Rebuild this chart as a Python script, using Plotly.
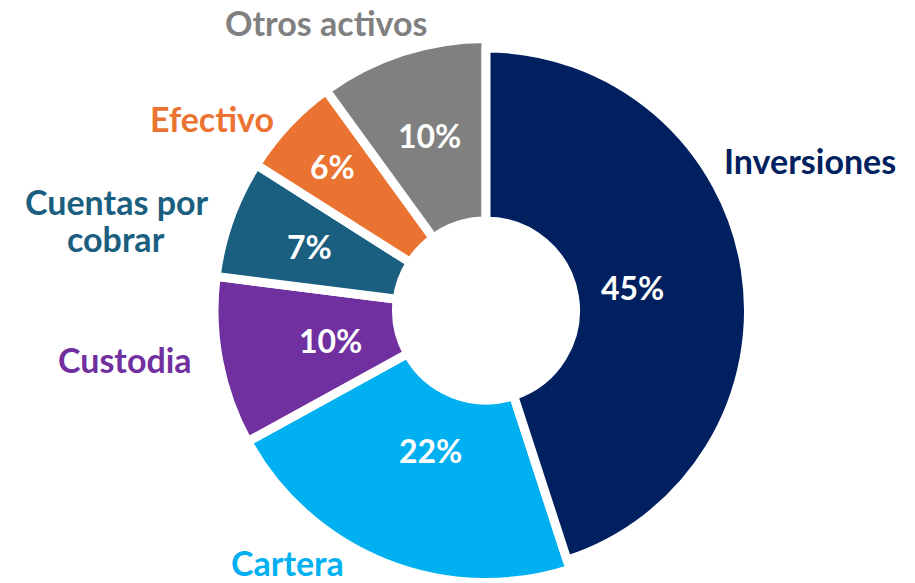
import math
import plotly.graph_objects as go

# ---- data ----
categories = ["Inversiones", "Cartera", "Custodia", "Cuentas por cobrar", "Efectivo", "Otros activos"]
values = [45, 22, 10, 7, 6, 10]
colors = ["#002060", "#00B0F0", "#7030A0", "#1A5E80", "#EB7331", "#808080"]

# ---- style / layout (pixels in a 915x583 figure) ----
W, H = 915, 583
FONT = "Lato"
CX, CY = 486.0, 310.5          # centre of the doughnut
HOLE_R = 94.0                  # visible radius of the hole
GAP = 9.0                      # white separation between slices
slice_radius = {"Inversiones": 258.0}   # visible outer radius per slice
default_radius = 267.5
pct_radius = [148, 151, 158, 188, 210, 184]   # where the % text sits
label_lines = {
    "Inversiones": [("Inversiones", 810, 160)],
    "Cartera": [("Cartera", 287, 562)],
    "Custodia": [("Custodia", 125, 359)],
    "Cuentas por cobrar": [("Cuentas por", 117, 201), ("cobrar", 116, 238)],
    "Efectivo": [("Efectivo", 212, 118.5)],
    "Otros activos": [("Otros activos", 326, 22.5)],
}

fig = go.Figure()

radii = [slice_radius.get(c, default_radius) for c in categories]
for R in sorted(set(radii), reverse=True):
    r_draw = R + GAP / 2
    hole = (HOLE_R - GAP / 2) / r_draw
    show = [r == R for r in radii]
    fig.add_trace(go.Pie(
        labels=categories,
        values=values,
        sort=False,
        direction="clockwise",
        rotation=0,
        hole=hole,
        marker=dict(
            colors=[c if s else "rgba(0,0,0,0)" for c, s in zip(colors, show)],
            line=dict(color="white", width=[GAP if s else 0 for s in show]),
        ),
        textinfo="none",
        textposition="none",
        showlegend=False,
        hoverinfo="label+percent",
        domain=dict(
            x=[(CX - r_draw) / W, (CX + r_draw) / W],
            y=[max(0, (H - CY - r_draw) / H), min(1, (H - CY + r_draw) / H)],
        ),
    ))

# percentage labels placed at each slice's mid angle
total = sum(values)
cum = 0.0
for v, rr in zip(values, pct_radius):
    mid = (cum + v / 2) / total * 2 * math.pi
    cum += v
    px = CX + rr * math.sin(mid)
    py = CY - rr * math.cos(mid)
    fig.add_annotation(
        x=px / W, y=1 - py / H, xref="paper", yref="paper",
        text=f"{round(v / total * 100)}%", showarrow=False,
        xanchor="center", yanchor="middle",
        font=dict(family=FONT, size=32, color="white", weight=700),
    )

# category labels
for cat, col in zip(categories, colors):
    for txt, px, py in label_lines[cat]:
        fig.add_annotation(
            x=px / W, y=1 - py / H, xref="paper", yref="paper",
            text=txt, showarrow=False,
            xanchor="center", yanchor="middle",
            font=dict(family=FONT, size=34, color=col, weight=700),
        )

fig.update_layout(
    width=W, height=H,
    margin=dict(l=0, r=0, t=0, b=0),
    paper_bgcolor="white", plot_bgcolor="white",
)
fig.write_html(
    "out.html",
    config={"displayModeBar": False},
    post_script="document.body.style.margin='0';document.body.style.overflow='hidden';",
)
